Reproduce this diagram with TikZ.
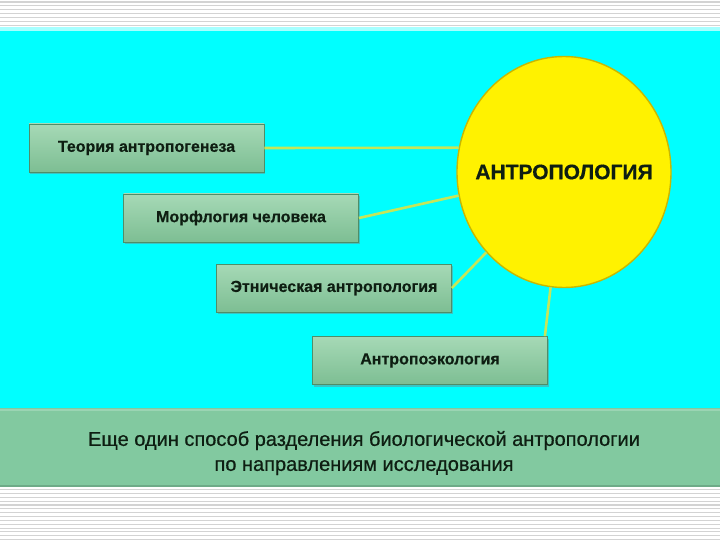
\documentclass[tikz,border=0pt]{standalone}
\usepackage{fontspec}
\setmainfont{Liberation Sans}
\usetikzlibrary{shapes.geometric,shadows}
\definecolor{bgcyan}{HTML}{00FFFF}
\definecolor{bandgreen}{HTML}{82C9A0}
\definecolor{boxtop}{HTML}{A6D9B6}
\definecolor{boxbot}{HTML}{7DBE93}
\definecolor{boxedge}{HTML}{4E8E68}
\definecolor{stripe}{HTML}{D3D3D3}
\definecolor{linkcol}{HTML}{C4E65A}
\definecolor{rim}{HTML}{C9B800}
\definecolor{txt}{HTML}{0E1E12}
\tikzset{
  topic/.style={rectangle, minimum width=235pt, minimum height=48pt, inner sep=0pt,
    top color=boxtop, bottom color=boxbot, draw=boxedge, line width=0.8pt,
    drop shadow={shadow xshift=1pt, shadow yshift=-2pt, opacity=0.45},
    font=\fontsize{16}{18}\selectfont\bfseries\addfontfeature{FakeBold=0.4}, text=txt},
  link/.style={draw=linkcol, line width=2.6pt},
  hub/.style={ellipse, minimum width=214pt, minimum height=231pt, inner sep=0pt,
    fill=yellow, draw=rim, line width=1.4pt},
  hublabel/.style={font=\fontsize{21}{23}\selectfont\bfseries\addfontfeature{FakeBold=0.5}, text=txt, inner sep=0pt},
  caption/.style={align=center, font=\addfontfeature{FakeBold=0.6}\fontsize{20}{25}\selectfont, text=txt}
}
\begin{document}
\begin{tikzpicture}[x=1pt,y=-1pt]
\useasboundingbox (0,0) rectangle (720,540);
% background
\fill[white] (0,0) rectangle (720,540);
\foreach \k in {0,...,7} {\fill[stripe] (0,{1.5+3.85*\k}) rectangle (720,{2.6+3.85*\k});}
\fill[bgcyan!35] (0,27) rectangle (720,31);
\fill[bgcyan] (0,31) rectangle (720,408);
\fill[bandgreen] (0,408) rectangle (720,487);
\fill[bandgreen!80!white] (0,409) rectangle (720,411);
\fill[bandgreen!85!black] (0,485) rectangle (720,487);
\foreach \k in {0,...,13} {\fill[stripe] (0,{489+3.85*\k}) rectangle (720,{490.1+3.85*\k});}
% hub
\node[hub] (circ) at (564,172) {};
\node[hublabel] (hubtxt) at (circ.center) {АНТРОПОЛОГИЯ};
% topics
\node[topic] (b1) at (146.5,148) {Теория антропогенеза};
\node[topic] (b2) at (241,218) {Морфлогия человека};
\node[topic] (b3) at (334,288) {Этническая антропология};
\node[topic] (b4) at (430,360.5) {Антропоэкология};
% links
\draw[link] (b1.east) -- (circ.167);
\draw[link] (b2.east) -- (circ);
\draw[link] (b3.east) -- (circ);
\draw[link] ([xshift=-3pt]b4.north east) -- (circ);
% caption
\node[caption] (cap) at (364,453) {Еще один способ разделения биологической антропологии\\по направлениям исследования};
\end{tikzpicture}
\end{document}
